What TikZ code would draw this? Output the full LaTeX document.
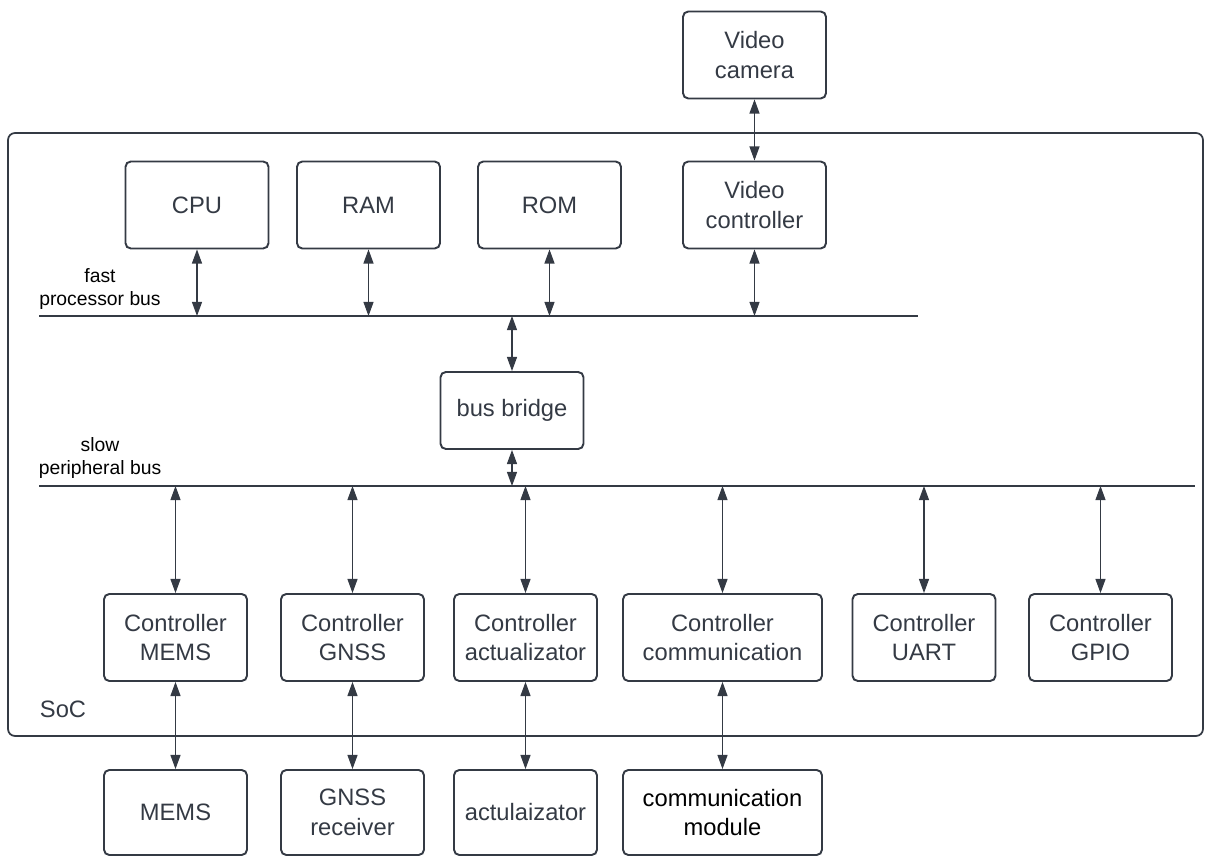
\documentclass[tikz,border=0pt]{standalone}
\usepackage{fontspec}
\setmainfont{Liberation Sans}
\usetikzlibrary{arrows.meta}
\definecolor{inkgray}{RGB}{52,58,68}
\tikzset{
  blk/.style={draw=inkgray, line width=1.1pt, rounded corners=3pt, text=inkgray,
    align=center, font=\fontsize{13.5}{16.8}\selectfont,
    minimum width=2.86cm, minimum height=1.74cm, inner sep=0pt},
  widebox/.style={blk, minimum width=3.98cm},
  lowbox/.style={blk, minimum height=1.7cm},
  busline/.style={draw=inkgray, line width=1.1pt},
  bidir/.style={draw=inkgray, line width=0.6pt,
    {Triangle[width=5.7pt,length=8pt]}-{Triangle[width=5.7pt,length=8pt]}},
  buslbl/.style={text=black, align=center, font=\fontsize{11}{13}\selectfont}
}

\begin{document}
\begin{tikzpicture}[x=0.02cm, y=-0.02cm]
	%%%%% START %%%%%
	\useasboundingbox (0,0) rectangle (1205,857);

	% SoC frame
	\draw[draw=inkgray, line width=1pt, rounded corners=4pt] (8,133) rectangle (1203,736);
	\node[text=inkgray, font=\fontsize{13.5}{16}\selectfont] (soclbl) at (63,709) {SoC};

	% top row
	\node[blk] (camera) at (754.5,55) {Video\\camera};
	\node[blk] (cpu) at (197,205) {CPU};
	\node[blk] (ram) at (368.5,205) {RAM};
	\node[blk] (rom) at (549.5,205) {ROM};
	\node[blk] (vidctl) at (754.5,205) {Video\\controller};

	% fast bus
	\coordinate (fastL) at (39,316);
	\coordinate (fastR) at (918,316);
	\draw[busline] (fastL) -- (fastR);
	\node[buslbl] (fastlbl) at (100,289) {fast\\processor bus};

	% bridge
	\node[blk, minimum height=1.54cm] (bridge) at (512,410.5) {bus bridge};

	% slow bus
	\coordinate (slowL) at (39,486);
	\coordinate (slowR) at (1195,486);
	\draw[busline] (slowL) -- (slowR);
	\node[buslbl] (slowlbl) at (100,458) {slow\\peripheral bus};

	% controllers
	\node[blk] (cmems) at (175.5,637.5) {Controller\\MEMS};
	\node[blk] (cgnss) at (352.5,637.5) {Controller\\GNSS};
	\node[blk] (cact) at (525.5,637.5) {Controller\\actualizator};
	\node[widebox] (ccomm) at (722.5,637.5) {Controller\\communication};
	\node[blk] (cuart) at (924,637.5) {Controller\\UART};
	\node[blk] (cgpio) at (1100.5,637.5) {Controller\\GPIO};

	% outside devices
	\node[lowbox] (mems) at (175.5,812.5) {MEMS};
	\node[lowbox] (gnss) at (352.5,812.5) {GNSS\\receiver};
	\node[lowbox] (act) at (525.5,812.5) {actulaizator};
	\node[lowbox, minimum width=3.98cm, text=black] (comm) at (722.5,812.5) {communication\\module};

	% links
	\draw[bidir] (camera) -- (vidctl);
	\foreach \n in {cpu,ram,rom,vidctl}
		\draw[bidir] (\n) -- (\n |- fastL);
	\draw[bidir] (bridge) -- (bridge |- fastL);
	\draw[bidir] (bridge) -- (bridge |- slowL);
	\foreach \n in {cmems,cgnss,cact,ccomm,cuart,cgpio}
		\draw[bidir] (\n) -- (\n |- slowL);
	\draw[bidir] (cmems) -- (mems);
	\draw[bidir] (cgnss) -- (gnss);
	\draw[bidir] (cact) -- (act);
	\draw[bidir] (ccomm) -- (comm);
	%%%%% END %%%%%
\end{tikzpicture}
\end{document}
